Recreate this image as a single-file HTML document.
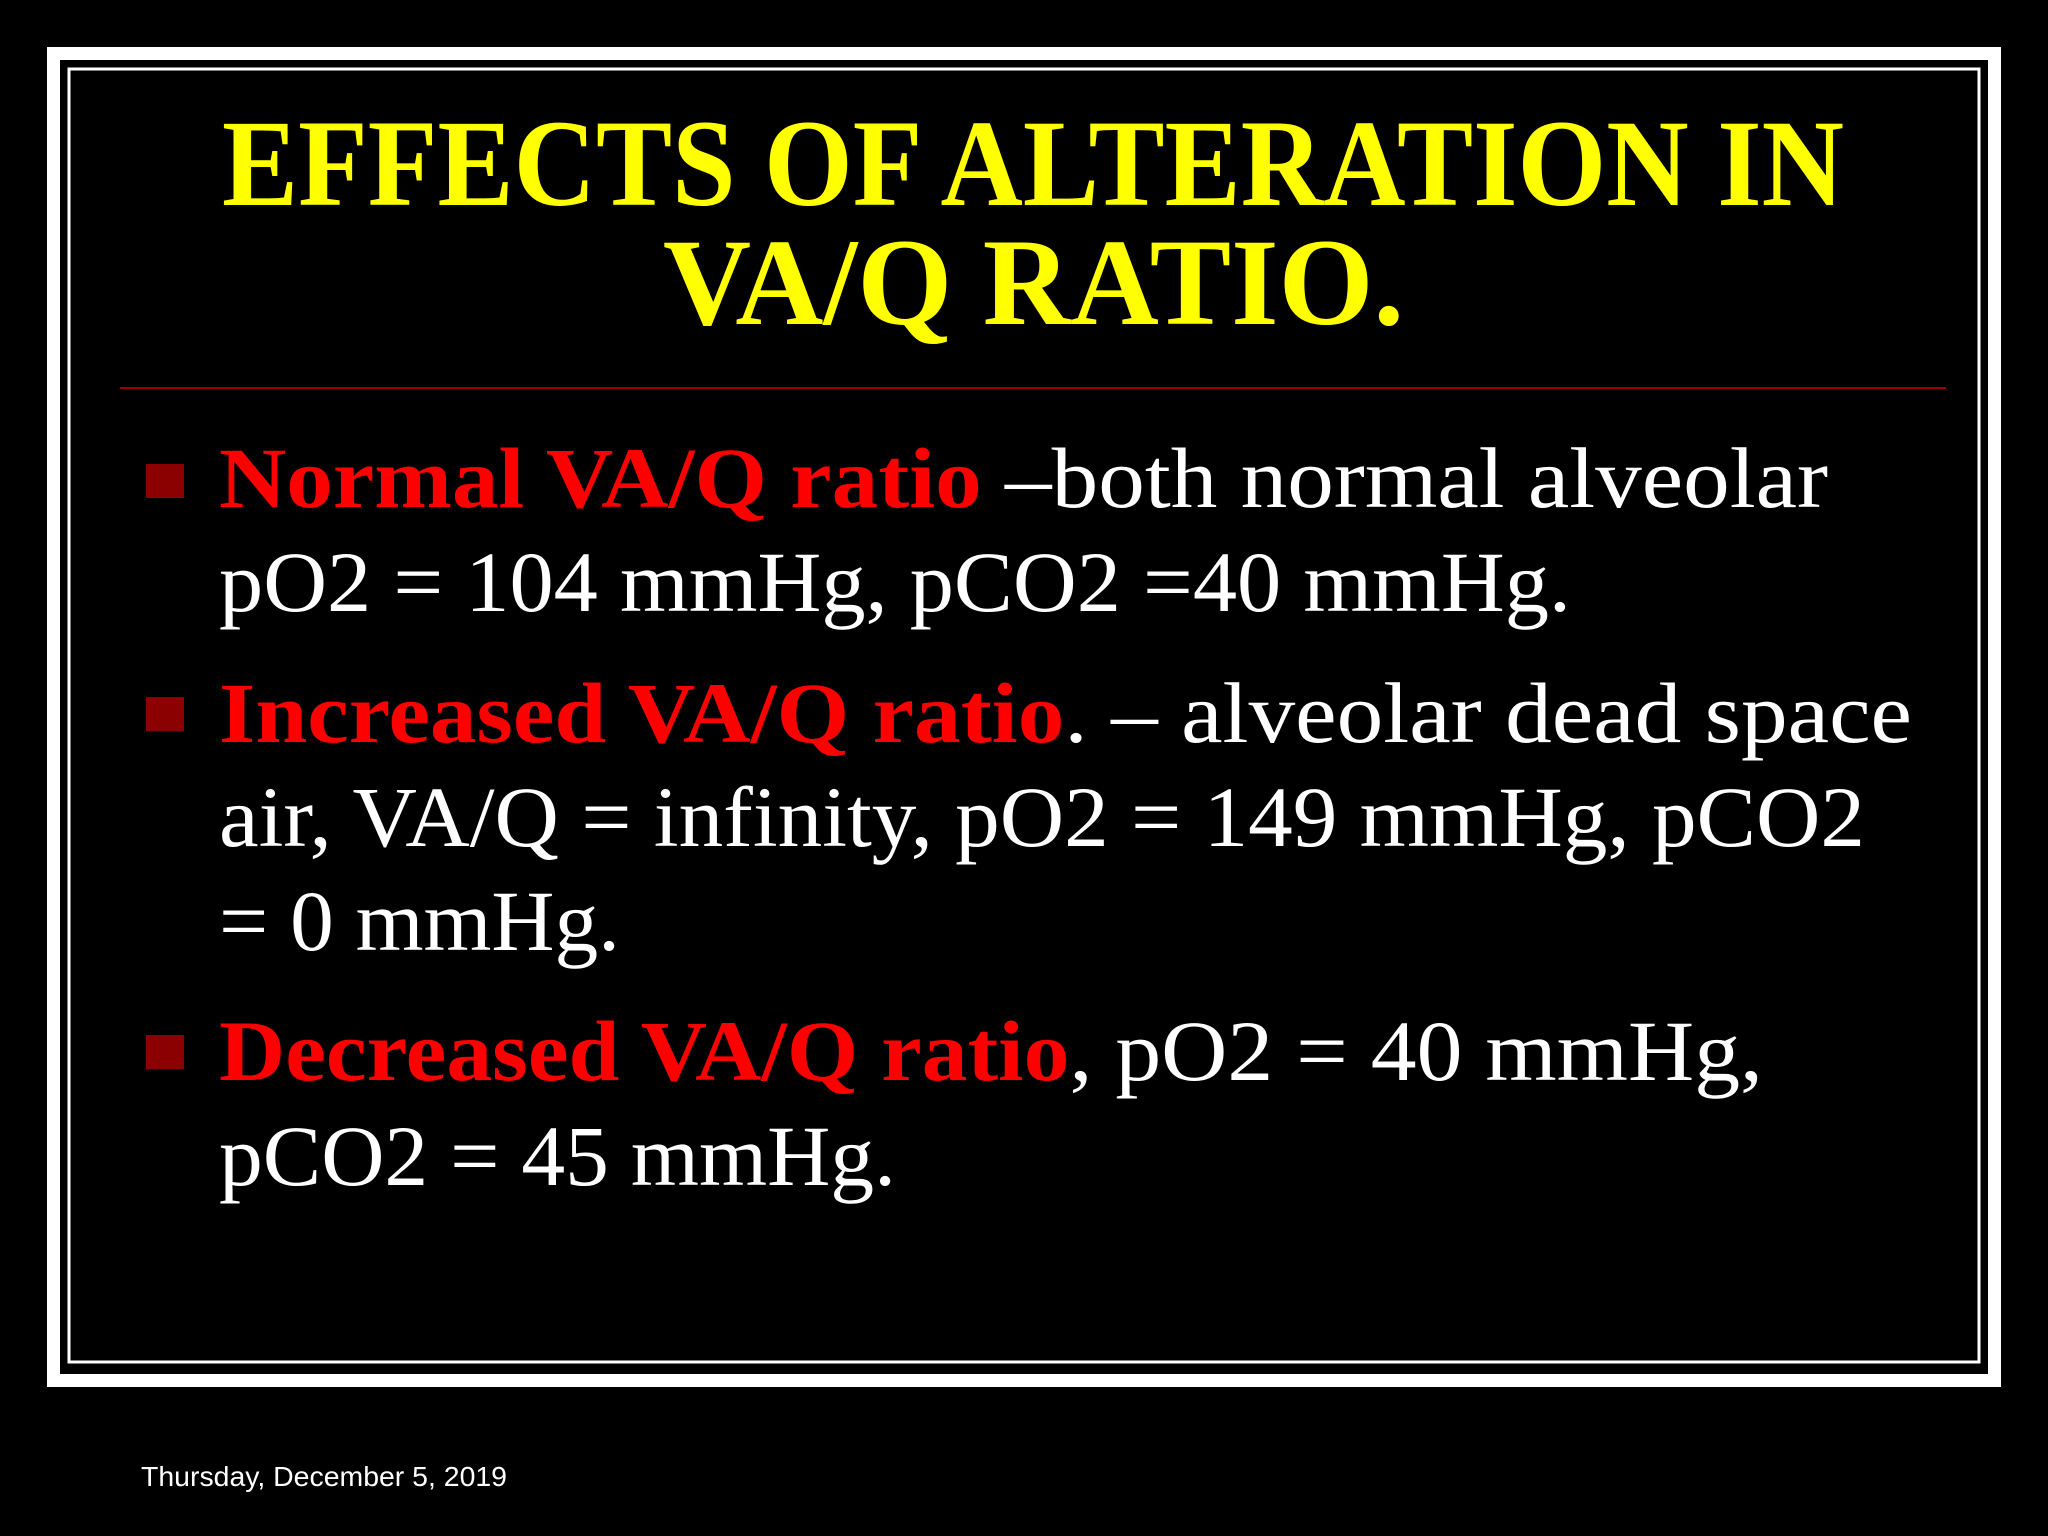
<!DOCTYPE html>
<html><head><meta charset="utf-8"><style>
html,body{margin:0;padding:0;background:#000;width:2048px;height:1536px;overflow:hidden}
svg{display:block}
text{font-family:"Liberation Serif",serif}
</style></head><body>
<svg width="2048" height="1536" viewBox="0 0 2048 1536">
<rect x="0" y="0" width="2048" height="1536" fill="#000"/>
<rect x="53.5" y="53.5" width="1941" height="1327" fill="none" stroke="#fff" stroke-width="13"/>
<rect x="69" y="69" width="1910" height="1293" fill="none" stroke="#fff" stroke-width="3"/>
<g font-weight="bold" fill="#ffff00" font-size="124">
<text x="222" y="205" textLength="1622" lengthAdjust="spacingAndGlyphs">EFFECTS OF ALTERATION IN</text>
<text x="663" y="324" textLength="741" lengthAdjust="spacingAndGlyphs">VA/Q RATIO.</text>
</g>
<rect x="120" y="387" width="1826" height="2" fill="#a00000"/>
<g fill="#8b0000">
<rect x="146" y="464" width="38" height="34"/>
<rect x="146" y="697" width="38" height="34"/>
<rect x="146" y="1035" width="38" height="34"/>
</g>
<g font-size="86" fill="#fff">
<text x="219" y="507" textLength="1609" lengthAdjust="spacingAndGlyphs"><tspan fill="#ff0000" font-weight="bold">Normal VA/Q ratio</tspan> –both normal alveolar</text>
<text x="219" y="611" textLength="1352" lengthAdjust="spacingAndGlyphs">pO2 = 104 mmHg, pCO2 =40 mmHg.</text>
<text x="219" y="742" textLength="1693" lengthAdjust="spacingAndGlyphs"><tspan fill="#ff0000" font-weight="bold">Increased VA/Q ratio</tspan>. – alveolar dead space</text>
<text x="219" y="846" textLength="1646" lengthAdjust="spacingAndGlyphs">air, VA/Q = infinity, pO2 = 149 mmHg, pCO2</text>
<text x="219" y="950" textLength="401" lengthAdjust="spacingAndGlyphs">= 0 mmHg.</text>
<text x="219" y="1080" textLength="1544" lengthAdjust="spacingAndGlyphs"><tspan fill="#ff0000" font-weight="bold">Decreased VA/Q ratio</tspan>, pO2 = 40 mmHg,</text>
<text x="219" y="1185" textLength="677" lengthAdjust="spacingAndGlyphs">pCO2 = 45 mmHg.</text>
</g>
<text x="141" y="1486" font-size="28" fill="#fff" style='font-family:"Liberation Sans",sans-serif' textLength="366" lengthAdjust="spacingAndGlyphs">Thursday, December 5, 2019</text>
</svg>
</body></html>
